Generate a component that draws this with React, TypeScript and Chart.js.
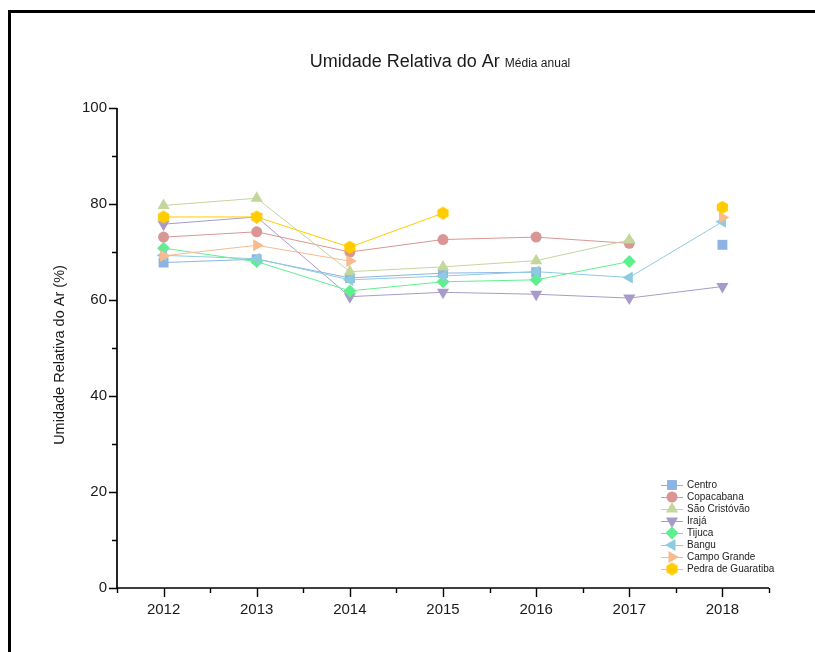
import React, { useEffect, useRef } from 'react';
import { Chart, registerables } from 'chart.js';
import { drawPoint } from 'chart.js/helpers';

Chart.register(...registerables);

// Annual mean relative humidity (%) per station
const years = [2012, 2013, 2014, 2015, 2016, 2017, 2018];
const centro = [67.8, 68.5, 64.6, 65.6, 65.8, null, 71.5];
const copacabana = [73.1, 74.2, 70.0, 72.6, 73.1, 71.8, null];
const saoCristovao = [79.7, 81.2, 65.9, 66.9, 68.2, 72.5, null];
const iraja = [75.8, 77.3, 60.7, 61.6, 61.2, 60.4, 62.8];
const tijuca = [70.8, 68.0, 61.9, 63.8, 64.2, 68.0, null];
const bangu = [69.3, 68.6, 64.2, 65.0, 65.9, 64.7, 76.3];
const campoGrande = [69.2, 71.4, 68.1, null, null, null, 77.2];
const pedraDeGuaratiba = [77.3, 77.3, 71.0, 78.1, null, null, 79.3];

const stationNames = [
  'Centro',
  'Copacabana',
  'São Cristóvão',
  'Irajá',
  'Tijuca',
  'Bangu',
  'Campo Grande',
  'Pedra de Guaratiba',
];
const stationValues = [centro, copacabana, saoCristovao, iraja, tijuca, bangu, campoGrande, pedraDeGuaratiba];
const stationColors = ['#8DB3E2', '#D99694', '#C3D69B', '#A99BC9', '#5EF08F', '#8FCBDF', '#F7BB8E', '#FFCC00'];

const yTicks = [0, 20, 40, 60, 80, 100];
const yMinorTicks = [10, 30, 50, 70, 90];

const FONT = '"Liberation Sans", Arial, Helvetica, sans-serif';

function makeHexagon(color: string, r: number): HTMLCanvasElement {
  const size = Math.ceil(r * 2 + 2);
  const c = document.createElement('canvas');
  c.width = size;
  c.height = size;
  const g = c.getContext('2d')!;
  const cx = size / 2;
  const cy = size / 2;
  g.fillStyle = color;
  g.beginPath();
  for (let k = 0; k < 6; k++) {
    const a = (Math.PI / 3) * k - Math.PI / 2;
    const px = cx + r * Math.cos(a);
    const py = cy + r * Math.sin(a);
    if (k === 0) g.moveTo(px, py);
    else g.lineTo(px, py);
  }
  g.closePath();
  g.fill();
  return c;
}

type Marker = { style: any; radius: number; rotation: number };

function markerFor(i: number): Marker {
  switch (i) {
    case 0: return { style: 'rect', radius: 7, rotation: 0 };
    case 1: return { style: 'circle', radius: 5.5, rotation: 0 };
    case 2: return { style: 'triangle', radius: 7, rotation: 0 };
    case 3: return { style: 'triangle', radius: 7, rotation: 180 };
    case 4: return { style: 'rectRot', radius: 6.5, rotation: 0 };
    case 5: return { style: 'triangle', radius: 7, rotation: -90 };
    case 6: return { style: 'triangle', radius: 7, rotation: 90 };
    default: return { style: makeHexagon(stationColors[7], 6.5), radius: 6.5, rotation: 0 };
  }
}

const decorPlugin = {
  id: 'decor',
  afterDraw(chart: any) {
    const { ctx, scales } = chart;
    const x = scales.x;
    const y = scales.y;
    const x0 = x.getPixelForValue(x.min);
    const x1 = x.getPixelForValue(x.max);
    const yb = y.getPixelForValue(0);
    const yt = y.getPixelForValue(100);

    ctx.save();

    // outer frame
    ctx.strokeStyle = '#000';
    ctx.lineWidth = 3;
    ctx.strokeRect(9.5, 11.5, 900, 900);

    // axes
    ctx.lineWidth = 1.7;
    ctx.beginPath();
    ctx.moveTo(x0, yt);
    ctx.lineTo(x0, yb);
    ctx.lineTo(x1, yb);
    ctx.stroke();

    // x ticks: majors on the years, minors halfway between
    ctx.lineWidth = 1.4;
    ctx.beginPath();
    for (let v = x.min; v <= x.max + 1e-9; v += 0.5) {
      const px = Math.round(x.getPixelForValue(v)) + 0.5;
      const len = Number.isInteger(v) ? 9 : 5;
      ctx.moveTo(px, yb);
      ctx.lineTo(px, yb + len);
    }
    // y ticks
    yTicks.forEach((v) => {
      const py = Math.round(y.getPixelForValue(v)) + 0.5;
      ctx.moveTo(x0, py);
      ctx.lineTo(x0 - 8, py);
    });
    yMinorTicks.forEach((v) => {
      const py = Math.round(y.getPixelForValue(v)) + 0.5;
      ctx.moveTo(x0, py);
      ctx.lineTo(x0 - 5, py);
    });
    ctx.stroke();

    // title
    ctx.fillStyle = '#1a1a1a';
    ctx.textBaseline = 'alphabetic';
    ctx.textAlign = 'left';
    ctx.font = `18px ${FONT}`;
    const main = 'Umidade Relativa do Ar';
    const sub = 'Média anual';
    const mainW = ctx.measureText(main).width;
    ctx.font = `12px ${FONT}`;
    const subW = ctx.measureText(sub).width;
    const startX = 440 - (mainW + 5 + subW) / 2;
    ctx.font = `18px ${FONT}`;
    ctx.fillText(main, startX, 67);
    ctx.font = `12px ${FONT}`;
    ctx.fillText(sub, startX + mainW + 5, 67);

    // y-axis title
    ctx.save();
    ctx.translate(60, 355);
    ctx.rotate(-Math.PI / 2);
    ctx.textAlign = 'center';
    ctx.textBaseline = 'middle';
    ctx.font = `14.5px ${FONT}`;
    ctx.fillText('Umidade Relativa do Ar (%)', 0, 0);
    ctx.restore();

    // legend
    const lx = 661;
    const ly = 485;
    const row = 12;
    chart.data.datasets.forEach((ds: any, i: number) => {
      const cy = ly + i * row;
      ctx.strokeStyle = ds.borderColor;
      ctx.lineWidth = 1;
      ctx.beginPath();
      ctx.moveTo(lx, cy + 0.5);
      ctx.lineTo(lx + 22, cy + 0.5);
      ctx.stroke();
      ctx.fillStyle = ds.pointBackgroundColor;
      drawPoint(ctx, {
        pointStyle: ds.pointStyle,
        radius: ds.pointRadius,
        rotation: ds.pointRotation,
        borderWidth: 0,
      } as any, lx + 11, cy);
      ctx.fillStyle = '#222';
      ctx.font = `10px ${FONT}`;
      ctx.textAlign = 'left';
      ctx.textBaseline = 'middle';
      ctx.fillText(ds.label, lx + 26, cy + 0.5);
    });

    ctx.restore();
  },
};

export default function App() {
  const canvasRef = useRef<HTMLCanvasElement | null>(null);

  useEffect(() => {
    const canvas = canvasRef.current;
    if (!canvas) return;

    const datasets = stationNames.map((name, i) => {
      const m = markerFor(i);
      return {
        label: name,
        data: years.map((yr, k) => ({ x: yr, y: stationValues[i][k] })),
        borderColor: stationColors[i],
        backgroundColor: stationColors[i],
        pointBackgroundColor: stationColors[i],
        pointBorderColor: stationColors[i],
        pointBorderWidth: 0,
        borderWidth: 1,
        pointStyle: m.style,
        pointRadius: m.radius,
        pointRotation: m.rotation,
        pointHoverRadius: m.radius,
        spanGaps: false,
        tension: 0,
        order: stationNames.length - i,
      };
    });

    const chart = new Chart(canvas, {
      type: 'line',
      data: { datasets },
      plugins: [decorPlugin],
      options: {
        responsive: false,
        animation: false,
        events: [],
        layout: { padding: { top: 108, left: 0, right: 46, bottom: 0 } },
        plugins: {
          legend: { display: false },
          title: { display: false },
          tooltip: { enabled: false },
        },
        scales: {
          x: {
            type: 'linear',
            min: years[0] - 0.5,
            max: years[years.length - 1] + 0.5,
            grid: { display: false, drawTicks: false },
            border: { display: false },
            afterBuildTicks: (scale: any) => {
              scale.ticks = years.map((v) => ({ value: v }));
            },
            afterFit: (scale: any) => {
              scale.height = 64;
            },
            ticks: {
              color: '#1a1a1a',
              padding: 13,
              font: { family: FONT, size: 15 },
              callback: (v: any) => String(v),
            },
          },
          y: {
            type: 'linear',
            min: 0,
            max: 100,
            grid: { display: false, drawTicks: false },
            border: { display: false },
            afterBuildTicks: (scale: any) => {
              scale.ticks = yTicks.map((v) => ({ value: v }));
            },
            afterFit: (scale: any) => {
              scale.width = 117;
            },
            ticks: {
              color: '#1a1a1a',
              padding: 10,
              font: { family: FONT, size: 15 },
            },
          },
        },
      },
    });

    return () => chart.destroy();
  }, []);

  return (
    <div style={{ position: 'fixed', left: 0, top: 0, width: 815, height: 652, background: '#fff', overflow: 'hidden' }}>
      <canvas ref={canvasRef} width={815} height={652} style={{ display: 'block' }} />
    </div>
  );
}
